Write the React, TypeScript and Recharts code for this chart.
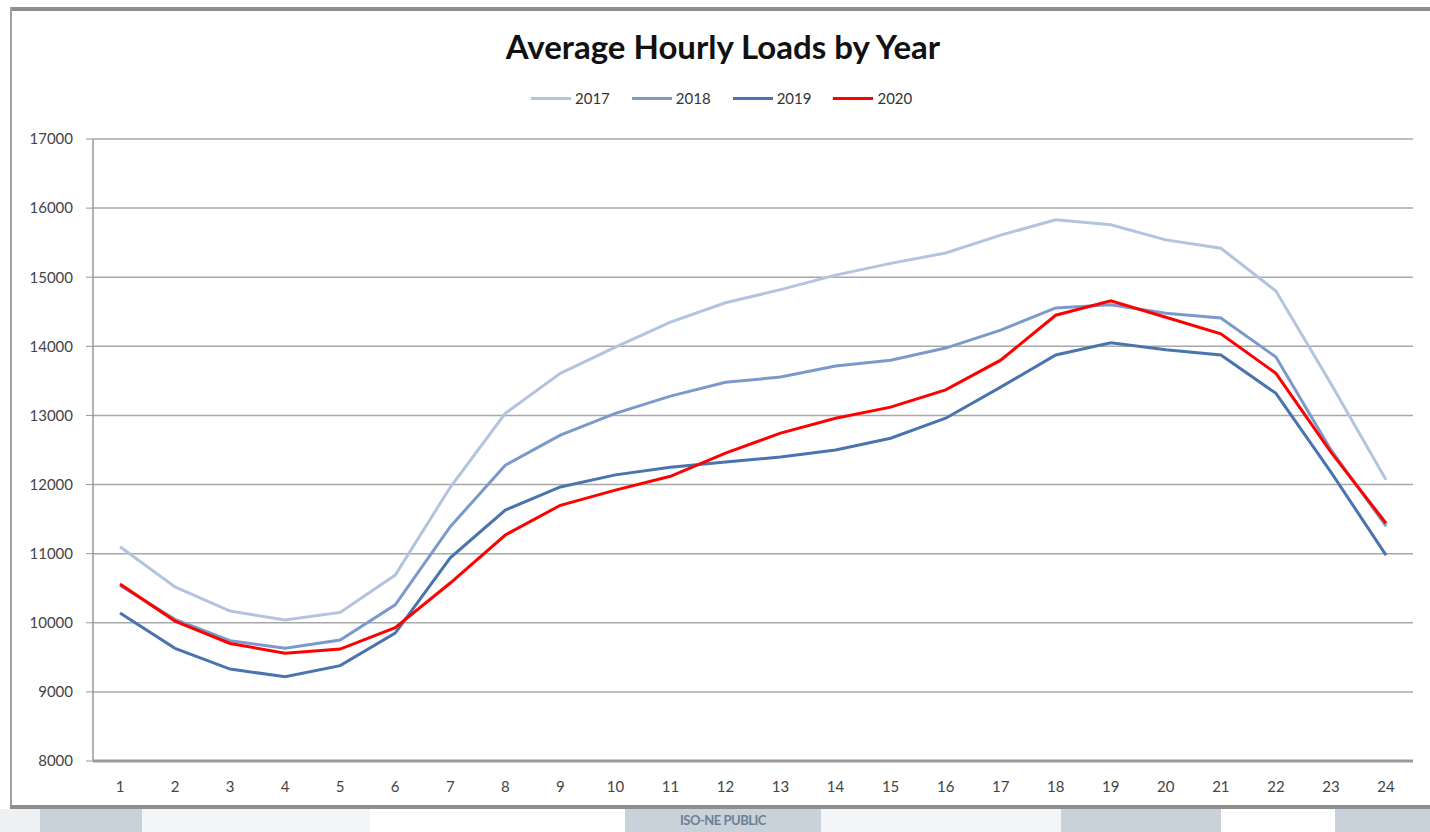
import { LineChart, Line, XAxis, YAxis, CartesianGrid } from "recharts";

const hours = ["1","2","3","4","5","6","7","8","9","10","11","12","13","14","15","16","17","18","19","20","21","22","23","24"];

const load2017 = [11100, 10520, 10170, 10040, 10150, 10690, 11960, 13030, 13610, 13990, 14350, 14630, 14820, 15030, 15200, 15350, 15610, 15830, 15760, 15540, 15420, 14800, 13460, 12070];
const load2018 = [10540, 10050, 9740, 9630, 9750, 10260, 11390, 12280, 12715, 13030, 13280, 13480, 13555, 13715, 13800, 13975, 14235, 14555, 14600, 14480, 14410, 13845, 12500, 11400];
const load2019 = [10140, 9630, 9330, 9220, 9380, 9850, 10940, 11630, 11965, 12140, 12250, 12325, 12400, 12500, 12670, 12960, 13410, 13875, 14050, 13950, 13875, 13320, 12180, 10980];
const load2020 = [10560, 10025, 9700, 9560, 9620, 9930, 10575, 11270, 11700, 11920, 12120, 12455, 12745, 12960, 13120, 13370, 13800, 14450, 14660, 14420, 14180, 13610, 12470, 11440];

const yTicks = [8000, 9000, 10000, 11000, 12000, 13000, 14000, 15000, 16000, 17000];

const series = [
  { key: "2017", values: load2017, color: "#b3c4de" },
  { key: "2018", values: load2018, color: "#7b9acb" },
  { key: "2019", values: load2019, color: "#4a74ae" },
  { key: "2020", values: load2020, color: "#ff0000" },
];

const chartData = hours.map((h, i) => {
  const row: Record<string, string | number> = { hour: h };
  series.forEach((s) => { row[s.key] = s.values[i]; });
  return row;
});

const FONT = "Lato, 'Open Sans', sans-serif";

// bottom strip pieces, loosely
const stripBoxes = [
  { left: 0, width: 40, bg: "#eef0f2" },
  { left: 40, width: 102, bg: "#c9d1da" },
  { left: 142, width: 228, bg: "#f4f5f6" },
  { left: 370, width: 255, bg: "#ffffff" },
  { left: 625, width: 196, bg: "#c9d1da" },
  { left: 821, width: 240, bg: "#f4f5f6" },
  { left: 1061, width: 160, bg: "#c9d1da" },
  { left: 1221, width: 114, bg: "#ffffff" },
  { left: 1335, width: 95, bg: "#c9d1da" },
];

export default function App() {
  return (
    <div style={{ position: "absolute", left: 0, top: 0, width: 1430, height: 832, background: "#fff", overflow: "hidden", fontFamily: FONT }}>
      {/* frame */}
      <div style={{ position: "absolute", left: 10, top: 7, width: 1420, height: 4, background: "#8e8e8e" }} />
      <div style={{ position: "absolute", left: 10, top: 7, width: 2, height: 800, background: "#a0a0a0" }} />
      <div style={{ position: "absolute", left: 10, top: 805, width: 1420, height: 4, background: "#8e8e8e" }} />
      <div style={{ position: "absolute", left: 0, top: 809, width: 1430, height: 23 }}>
        {stripBoxes.map((b, i) => (
          <div key={i} style={{ position: "absolute", left: b.left, top: 0, width: b.width, height: 23, background: b.bg }} />
        ))}
        <div style={{ position: "absolute", left: 625, width: 196, top: 3, textAlign: "center", fontSize: 13, fontWeight: 700, color: "#6d7f94", letterSpacing: "-0.5px" }}>
          ISO-NE PUBLIC
        </div>
      </div>

      {/* title */}
      <div style={{ position: "absolute", left: 0, top: 26, width: 1446, textAlign: "center", fontSize: 33, fontWeight: 700, color: "#111" }}>
        Average Hourly Loads by Year
      </div>

      {/* legend */}
      <div style={{ position: "absolute", left: 531, top: 89, display: "flex", alignItems: "center", fontSize: 15, color: "#333" }}>
        {series.map((s) => (
          <div key={s.key} style={{ display: "flex", alignItems: "center", marginRight: 22 }}>
            <div style={{ width: 40, height: 3, background: s.color, marginRight: 4 }} />
            <span>{s.key}</span>
          </div>
        ))}
      </div>

      <div style={{ position: "absolute", left: 0, top: 0 }}>
        <LineChart
          width={1430}
          height={800}
          data={chartData}
          margin={{ top: 139, right: 17, bottom: 9, left: 0 }}
        >
          <CartesianGrid vertical={false} stroke="#a8a8a8" strokeWidth={1.5} />
          <XAxis
            dataKey="hour"
            interval={0}
            padding={{ left: 27, right: 27 }}
            tickLine={false}
            tickSize={0}
            tickMargin={20}
            height={30}
            axisLine={{ stroke: "#999", strokeWidth: 3 }}
            tick={{ fill: "#444", fontSize: 15, fontFamily: FONT }}
          />
          <YAxis
            width={93}
            domain={[8000, 17000]}
            ticks={yTicks}
            interval={0}
            tickSize={7}
            tickMargin={13}
            tickLine={{ stroke: "#999" }}
            axisLine={{ stroke: "#999", strokeWidth: 1.5 }}
            tick={{ fill: "#444", fontSize: 15, fontFamily: FONT }}
          />
          {series.map((s) => (
            <Line
              key={s.key}
              type="linear"
              dataKey={s.key}
              stroke={s.color}
              strokeWidth={3}
              dot={false}
              activeDot={false}
              isAnimationActive={false}
            />
          ))}
        </LineChart>
      </div>
    </div>
  );
}
